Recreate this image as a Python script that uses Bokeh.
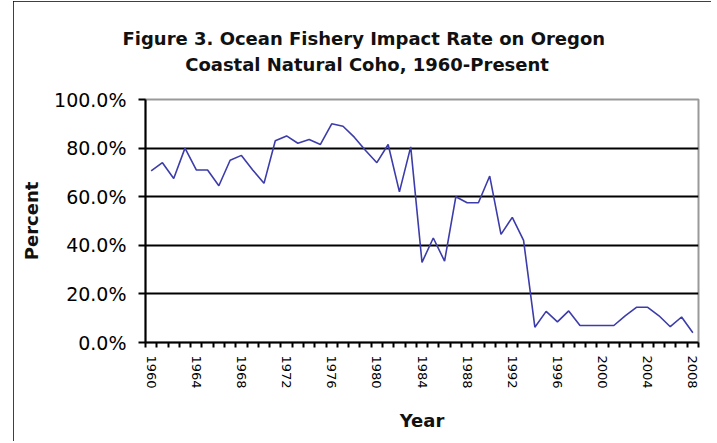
from bokeh.plotting import figure
from bokeh.models import FixedTicker, PrintfTickFormatter, Title, Range1d
from bokeh.embed import file_html
from bokeh.resources import INLINE

years = list(range(1960, 2009))
impact = [70.6, 74, 67.5, 80, 71, 71, 64.5, 75, 77, 71,
          65.5, 83, 85, 82, 83.5, 81.5, 90, 89, 84.5, 79,
          74, 81.5, 62, 80.5, 33, 43, 33.5, 60, 57.5, 57.5,
          68.5, 44.5, 51.5, 42, 6.3, 12.8, 8.5, 13, 7, 7,
          7, 7, 11, 14.5, 14.5, 11, 6.5, 10.5, 4]
label_years = list(range(1960, 2009, 4))
y_ticks = [0, 20, 40, 60, 80, 100]
grid_ticks = [20, 40, 60, 80]

title_line1 = "Figure 3.  Ocean Fishery Impact Rate on Oregon"
title_line2 = "Coastal Natural Coho, 1960-Present"

p = figure(width=698, height=440, title=None, toolbar_location=None,
           output_backend="svg",
           x_range=Range1d(years[0] - 0.5, years[-1] + 0.5),
           y_range=Range1d(0, 100),
           min_border_left=132, min_border_right=13,
           min_border_top=96, min_border_bottom=99)

# second line padded with non-breaking spaces so it sits centred under the first
t = Title(text=title_line1 + "\n" + "\u00a0" * 10 + title_line2,
          align="left", offset=-23,
          text_font="DejaVu Sans", text_font_style="bold",
          text_font_size="18px", text_color="#111111",
          text_line_height=1.25, standoff=49)
p.add_layout(t, "above")

p.line(years, impact, line_color="#3c3caa", line_width=1.6)

p.background_fill_color = "white"
p.border_fill_color = "white"
p.outline_line_color = "#999999"
p.outline_line_width = 2

# x axis
xa = p.xaxis[0]
xa.ticker = FixedTicker(ticks=label_years,
                        minor_ticks=[y - 0.5 for y in years] + [years[-1] + 0.5])
xa.major_tick_out = 0
xa.major_tick_in = 0
xa.minor_tick_out = 5
xa.minor_tick_in = 0
xa.minor_tick_line_color = "black"
xa.minor_tick_line_width = 2
xa.axis_line_color = "black"
xa.axis_line_width = 2
xa.major_label_orientation = "vertical"
xa.major_label_text_font = "DejaVu Sans"
xa.major_label_text_font_size = "13px"
xa.major_label_text_color = "black"
xa.major_label_standoff = 8
xa.axis_label = "Year"
xa.axis_label_text_font = "DejaVu Sans"
xa.axis_label_text_font_style = "bold"
xa.axis_label_text_font_size = "18px"
xa.axis_label_text_color = "#111111"
xa.axis_label_standoff = 18

# y axis
ya = p.yaxis[0]
ya.ticker = FixedTicker(ticks=y_ticks)
ya.formatter = PrintfTickFormatter(format="%.1f%%")
ya.major_tick_out = 7
ya.major_tick_in = 0
ya.minor_tick_out = 0
ya.minor_tick_in = 0
ya.major_tick_line_color = "black"
ya.major_tick_line_width = 2
ya.axis_line_color = "black"
ya.axis_line_width = 2
ya.major_label_text_font = "DejaVu Sans"
ya.major_label_text_font_size = "19px"
ya.major_label_text_color = "black"
ya.major_label_standoff = 12
ya.axis_label = "Percent"
ya.axis_label_text_font = "DejaVu Sans"
ya.axis_label_text_font_style = "bold"
ya.axis_label_text_font_size = "18px"
ya.axis_label_text_color = "#111111"
ya.axis_label_standoff = 9

p.xgrid.visible = False
p.ygrid.ticker = FixedTicker(ticks=grid_ticks)
p.ygrid.grid_line_color = "black"
p.ygrid.grid_line_width = 2

p.styles = {"outline": "2px solid black", "outline-offset": "-2px",
            "margin-left": "13px", "margin-top": "1px"}

open("out.html", "w").write(file_html(p, INLINE))
